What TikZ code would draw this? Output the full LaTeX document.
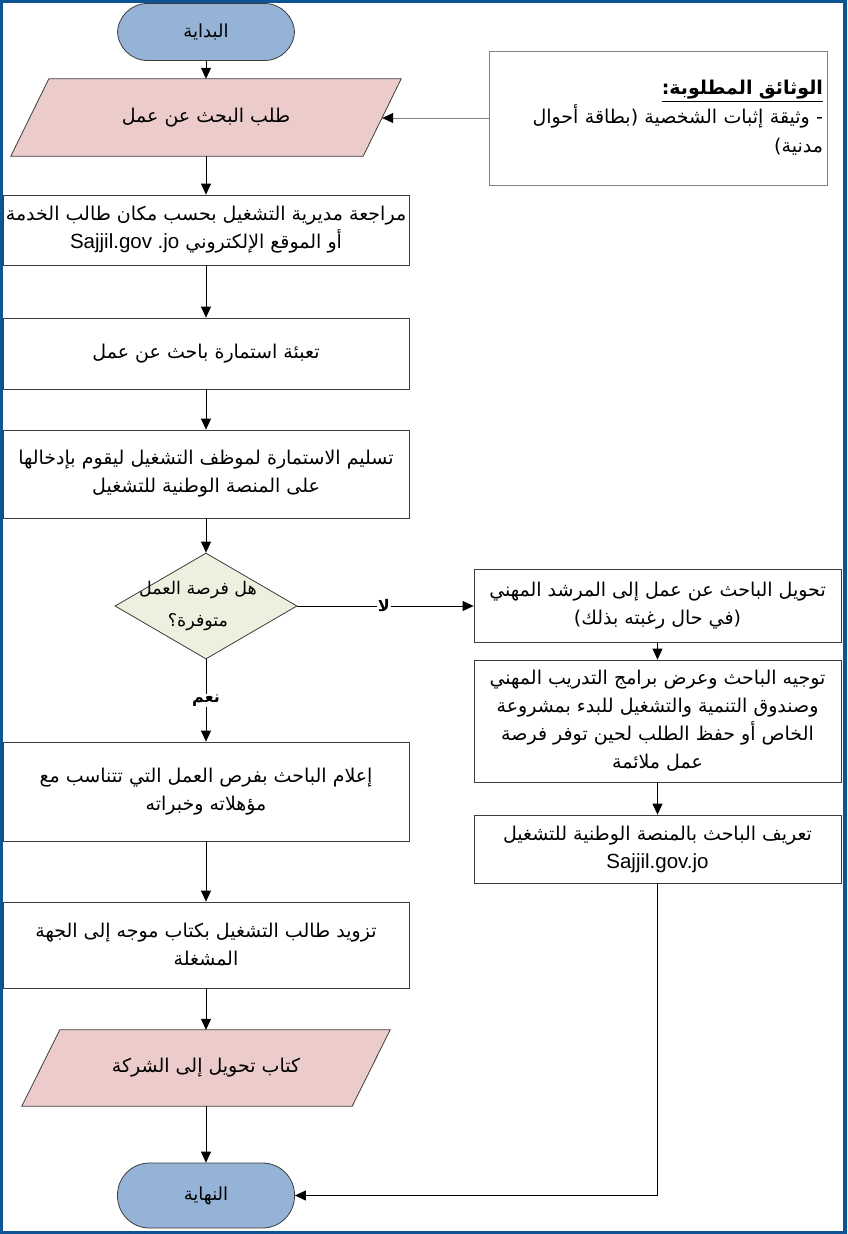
\documentclass[tikz,border=0pt]{standalone}
\usepackage{fontspec}
\usetikzlibrary{shapes.geometric,arrows.meta,backgrounds}
\TeXXeTstate=1
\newfontfamily\arabicfont[Script=Arabic]{DejaVu Sans}
\newfontfamily\latinfont{Liberation Sans}
\definecolor{frameblue}{RGB}{12,84,150}
\definecolor{termfill}{RGB}{149,179,215}
\definecolor{parafill}{RGB}{236,204,203}
\definecolor{decfill}{RGB}{235,241,222}
\definecolor{edgegray}{RGB}{60,60,60}
\newcommand{\AR}[1]{\beginR #1\endR}
\newcommand{\LT}[1]{\beginL{\latinfont #1}\endL}
\begin{document}
\begin{tikzpicture}[x=1pt,y=-1pt,
  txt/.style={font=\arabicfont\fontsize{19}{28}\selectfont,align=center,inner sep=0pt},
  box/.style={txt,draw=edgegray,line width=0.8pt,fill=white,minimum width=#1},
  lbox/.style={box=406pt},
  rbox/.style={box=367pt},
  term/.style={txt,font=\arabicfont\fontsize{18}{24}\selectfont,draw=edgegray,line width=0.8pt,fill=termfill,minimum width=177pt,rounded corners=30pt},
  paratext/.style={txt,minimum height=77pt},
  decision/.style={diamond,draw=edgegray,line width=0.8pt,fill=decfill,minimum width=182pt,minimum height=106pt,inner sep=0pt},
  arr/.style={-{Triangle[length=11pt,width=10pt,color=black]},line width=0.8pt,draw=black},
  lbl/.style={fill=white,inner sep=1pt,font=\arabicfont\bfseries\fontsize{16}{18}\selectfont}
]
\useasboundingbox (0,0) rectangle (847,1234);
\begin{pgfonlayer}{background}
\fill[frameblue] (0,0) rectangle (847,1234);
\fill[white] (3,3) rectangle (843,1231);
\end{pgfonlayer}

% left column
\node[term,minimum height=57pt] (start) at (206,32) {\AR{البداية}};
\node[paratext,minimum width=352pt] (para1) at (206,117.5) {\AR{طلب البحث عن عمل}};
\node[lbox,minimum height=70pt] (b1) at (206,230) {\AR{مراجعة مديرية التشغيل بحسب مكان طالب الخدمة}\\\AR{أو الموقع الإلكتروني \LT{\fontsize{20.5}{28}\selectfont Sajjil.gov .jo}}};
\node[lbox,minimum height=71pt] (b2) at (206,353.5) {\AR{تعبئة استمارة باحث عن عمل}};
\node[lbox,minimum height=88pt] (b3) at (206,474) {\AR{تسليم الاستمارة لموظف التشغيل ليقوم بإدخالها}\\\AR{على المنصة الوطنية للتشغيل}};
\node[decision] (dec) at (206,606) {};
\node[txt,font=\arabicfont\fontsize{17.5}{32}\selectfont] (dectext) at ([xshift=-8pt]dec.center) {\AR{هل فرصة العمل}\\\AR{متوفرة؟}};
\node[lbox,minimum height=99pt] (b4) at (206,791.5) {\AR{إعلام الباحث بفرص العمل التي تتناسب مع}\\\AR{مؤهلاته وخبراته}};
\node[lbox,minimum height=86pt] (b5) at (206,945) {\AR{تزويد طالب التشغيل بكتاب موجه إلى الجهة}\\\AR{المشغلة}};
\node[paratext,minimum width=330pt,minimum height=76pt] (para2) at (206,1068) {\AR{كتاب تحويل إلى الشركة}};
\node[term,minimum height=65pt,rounded corners=32pt] (endt) at (206,1195.5) {\AR{النهاية}};

% right column
\node[box=338pt,draw=gray,minimum height=134pt,text width=330pt,align=right,font=\arabicfont\fontsize{19}{29}\selectfont] (doc) at (658,118)
  {\underline{\bfseries\AR{الوثائق المطلوبة:}}\\\AR{- وثيقة إثبات الشخصية (بطاقة أحوال}\\\AR{مدنية)}};
\node[rbox,minimum height=73pt] (r1) at (657.5,606) {\AR{تحويل الباحث عن عمل إلى المرشد المهني}\\\AR{(في حال رغبته بذلك)}};
\node[rbox,minimum height=122pt] (r2) at (657.5,721) {\AR{توجيه الباحث وعرض برامج التدريب المهني}\\\AR{وصندوق التنمية والتشغيل للبدء بمشروعة}\\\AR{الخاص أو حفظ الطلب لحين توفر فرصة}\\\AR{عمل ملائمة}};
\node[rbox,minimum height=68pt] (r3) at (657.5,849) {\AR{تعريف الباحث بالمنصة الوطنية للتشغيل}\\{\latinfont\fontsize{20.5}{28}\selectfont Sajjil.gov.jo}};

% parallelogram outlines
\begin{pgfonlayer}{background}
\foreach \p in {para1,para2}{
  \filldraw[fill=parafill,draw=edgegray,line width=0.8pt]
    ([xshift=-19pt]\p.south west) -- ([xshift=19pt]\p.north west) --
    ([xshift=19pt]\p.north east) -- ([xshift=-19pt]\p.south east) -- cycle;
}
\end{pgfonlayer}

% connectors
\draw[arr] (start) -- (para1);
\draw[arr,draw=gray] (doc.west) -- (doc.west -| para1.east);
\draw[arr] (para1) -- (b1);
\draw[arr] (b1) -- (b2);
\draw[arr] (b2) -- (b3);
\draw[arr] (b3) -- (dec);
\draw[arr] (dec.east) -- node[lbl,pos=0.49]{\AR{لا}} (r1.west);
\draw[arr] (dec.south) -- node[lbl]{\AR{نعم}} (b4.north);
\draw[arr] (r1) -- (r2);
\draw[arr] (r2) -- (r3);
\draw[arr] (b4) -- (b5);
\draw[arr] (b5) -- (para2);
\draw[arr] (para2) -- (endt);
\draw[arr] (r3.south) |- (endt.east);
\end{tikzpicture}
\end{document}
